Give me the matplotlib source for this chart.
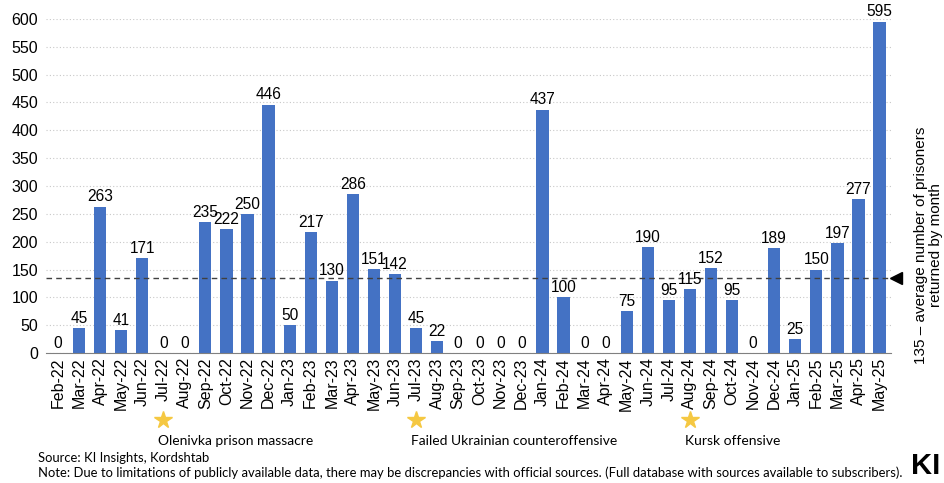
import matplotlib
matplotlib.use("Agg")
import matplotlib.pyplot as plt

months = ["Feb-22","Mar-22","Apr-22","May-22","Jun-22","Jul-22","Aug-22","Sep-22","Oct-22","Nov-22","Dec-22",
          "Jan-23","Feb-23","Mar-23","Apr-23","May-23","Jun-23","Jul-23","Aug-23","Sep-23","Oct-23","Nov-23","Dec-23",
          "Jan-24","Feb-24","Mar-24","Apr-24","May-24","Jun-24","Jul-24","Aug-24","Sep-24","Oct-24","Nov-24","Dec-24",
          "Jan-25","Feb-25","Mar-25","Apr-25","May-25"]
values = [0,45,263,41,171,0,0,235,222,250,446,
          50,217,130,286,151,142,45,22,0,0,0,0,
          437,100,0,0,75,190,95,115,152,95,0,189,
          25,150,197,277,595]
average = 135
events = ["Jul-22", "Jul-23", "Aug-24"]
event_labels = ["Olenivka prison massacre", "Failed Ukrainian counteroffensive", "Kursk offensive"]
yticks = list(range(0, 601, 50))

plt.rcParams['font.family'] = ['Liberation Sans', 'DejaVu Sans']
fig = plt.figure(figsize=(9.45, 4.83), dpi=100)
ax = fig.add_axes([0.049, 0.269, 0.894, 0.692])

x = list(range(len(months)))
ax.bar(x, values, width=0.58, color='#4472C4', zorder=2)
ax.set_xlim(-0.55, len(months) - 0.45)
ax.set_ylim(0, 600)
ax.set_yticks(yticks)
ax.set_xticks(x)
ax.set_xticklabels(months, rotation=90, fontsize=11.5)
ax.tick_params(axis='y', labelsize=11.5, length=0, pad=6)
ax.tick_params(axis='x', length=0, pad=3)
for s in ['top', 'right', 'left']:
    ax.spines[s].set_visible(False)
ax.spines['bottom'].set_color('#808080')
ax.grid(axis='y', color='#c8c8c8', linestyle=(0, (1, 2)), linewidth=0.8, zorder=0)

for xi, v, m in zip(x, values, months):
    if m == "May-23":
        ax.text(xi, v + 4, str(v), ha='center', va='bottom', fontsize=11.2, zorder=4,
                bbox=dict(facecolor='white', edgecolor='none', pad=1))
    else:
        ax.text(xi, v + 4, str(v), ha='center', va='bottom', fontsize=11.2, zorder=4)

ax.axhline(average, color='#404040', linestyle=(0, (4, 3)), linewidth=1.0, zorder=3)
ax.plot([1.006], [average], marker='<', color='black', markersize=8,
        transform=ax.get_yaxis_transform(), clip_on=False)
ax.text(1.044, 0.323, f"{average} – average number of prisoners\nreturned by month",
        rotation=90, ha='center', va='center', fontsize=11, transform=ax.transAxes,
        linespacing=1.1)

for ev, lab in zip(events, event_labels):
    i = months.index(ev)
    ax.plot([i], [-0.2], marker='*', color='#F5C842', markersize=13,
            transform=ax.get_xaxis_transform(), clip_on=False)
    ax.text(i - 0.25, -0.262, lab, ha='left', va='center', fontsize=10,
            family=['Lato', 'DejaVu Sans'], transform=ax.get_xaxis_transform())

fig.text(0.040, 0.052, "Source: KI Insights, Kordshtab", fontsize=9.4, family=['Lato', 'DejaVu Sans'],
         va='center', ha='left')
fig.text(0.040, 0.021, "Note: Due to limitations of publicly available data, there may be discrepancies with official sources. (Full database with sources available to subscribers).",
         fontsize=9.4, family=['Lato', 'DejaVu Sans'], va='center', ha='left')
fig.text(0.995, 0.035, "KI", fontsize=21, fontweight='bold', ha='right', va='center',
         family=['Liberation Sans', 'DejaVu Sans'])

fig.savefig("out.png", dpi=100)
